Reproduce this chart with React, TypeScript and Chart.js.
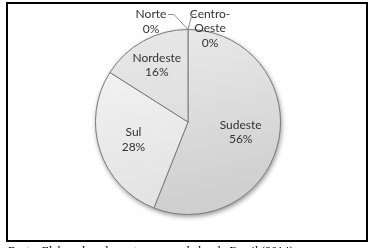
import React, { useEffect, useRef } from "react";
import { Chart, registerables } from "chart.js";

Chart.register(...registerables);

const categories = ["Sudeste", "Sul", "Nordeste", "Norte", "Centro-Oeste"];
const values = [56, 28, 16, 0, 0];
const labelLines = [["Sudeste", "56%"], ["Sul", "28%"], ["Nordeste", "16%"], ["Norte", "0%"], ["Centro-", "Oeste", "0%"]];
const caption = "Fonte: Elaborado pelos autores com dados do Brasil (2014).";

const gradStops: [string, string][] = [
  ["#ececec", "#cfcfcf"],
  ["#f6f6f6", "#e2e2e2"],
  ["#e8e8e8", "#d8d8d8"],
  ["#e0e0e0", "#d0d0d0"],
  ["#e0e0e0", "#d0d0d0"],
];

const FONT = "12px Lato, 'Open Sans', sans-serif";

const labelPlugin = {
  id: "pieLabels",
  beforeDatasetsDraw(chart: any) {
    const meta = chart.getDatasetMeta(0);
    const arc = meta.data[0];
    if (!arc) return;
    const ctx = chart.ctx;
    ctx.save();
    ctx.beginPath();
    ctx.arc(arc.x, arc.y, arc.outerRadius, 0, Math.PI * 2);
    ctx.shadowColor = "rgba(0,0,0,0.45)";
    ctx.shadowBlur = 5;
    ctx.shadowOffsetX = 1;
    ctx.shadowOffsetY = 2;
    ctx.fillStyle = "#d8d8d8";
    ctx.fill();
    ctx.restore();
  },
  afterDatasetsDraw(chart: any) {
    const meta = chart.getDatasetMeta(0);
    const ctx = chart.ctx;
    ctx.save();
    ctx.font = FONT;
    ctx.fillStyle = "#333333";
    ctx.textAlign = "center";
    ctx.textBaseline = "middle";
    const insideK = [0.58, 0.62, 0.7];
    const lh = 14.5;
    meta.data.forEach((el: any, i: number) => {
      const mid = (el.startAngle + el.endAngle) / 2;
      const lines = labelLines[i];
      if (i < 3) {
        const r = el.outerRadius * insideK[i];
        const x = el.x + Math.cos(mid) * r;
        const y = el.y + Math.sin(mid) * r;
        lines.forEach((t, j) => ctx.fillText(t, x, y + (j - (lines.length - 1) / 2) * lh));
      } else {
        const px = el.x + Math.cos(el.startAngle) * el.outerRadius;
        const py = el.y + Math.sin(el.startAngle) * el.outerRadius;
        ctx.strokeStyle = "#8c8c8c";
        ctx.lineWidth = 1;
        ctx.beginPath();
        if (i === 3) {
          const lx = px - 37, ly = py - 8;
          lines.forEach((t, j) => ctx.fillText(t, lx, ly + (j - 0.5) * lh));
          ctx.moveTo(px - 20, py - 15);
          ctx.lineTo(px - 14, py - 15);
          ctx.lineTo(px, py);
        } else {
          const lx = px + 22, ly = py - 1;
          lines.forEach((t, j) => ctx.fillText(t, lx, ly + (j - 1) * lh));
          ctx.moveTo(px + 8, py - 15);
          ctx.lineTo(px + 4, py - 15);
          ctx.lineTo(px, py);
        }
        ctx.stroke();
      }
    });
    ctx.restore();
  },
};

export default function App() {
  const ref = useRef<HTMLCanvasElement>(null);
  useEffect(() => {
    document.body.style.margin = "0";
    const chart = new Chart(ref.current!, {
      type: "pie",
      data: {
        labels: categories,
        datasets: [
          {
            data: values,
            backgroundColor: (c: any) => {
              const area = c.chart.chartArea;
              if (!area) return gradStops[c.dataIndex][1];
              const g = c.chart.ctx.createLinearGradient(area.left, area.top, area.left + 40, area.bottom);
              g.addColorStop(0, gradStops[c.dataIndex][0]);
              g.addColorStop(1, gradStops[c.dataIndex][1]);
              return g;
            },
            borderColor: "#7a7a7a",
            borderWidth: 1,
          },
        ],
      },
      options: {
        animation: false,
        responsive: false,
        maintainAspectRatio: false,
        layout: { padding: { left: 95, right: 92, top: 29, bottom: 33 } },
        plugins: { legend: { display: false }, tooltip: { enabled: false } },
      },
      plugins: [labelPlugin],
    });
    return () => chart.destroy();
  }, []);
  return (
    <div style={{ position: "relative", width: 373, height: 248, overflow: "hidden", background: "#fff" }}>
      <div
        style={{
          position: "absolute",
          left: 6,
          top: 2,
          width: 362,
          height: 240,
          border: "2px solid #000",
          boxSizing: "border-box",
        }}
      />
      <canvas ref={ref} width={373} height={248} style={{ position: "absolute", left: 0, top: 0 }} />
      <div
        style={{
          position: "absolute",
          left: 8,
          top: 244,
          fontFamily: "'Liberation Serif', serif",
          fontSize: 12,
          whiteSpace: "nowrap",
          lineHeight: "14px",
          color: "#000",
        }}
      >
        {caption}
      </div>
    </div>
  );
}
